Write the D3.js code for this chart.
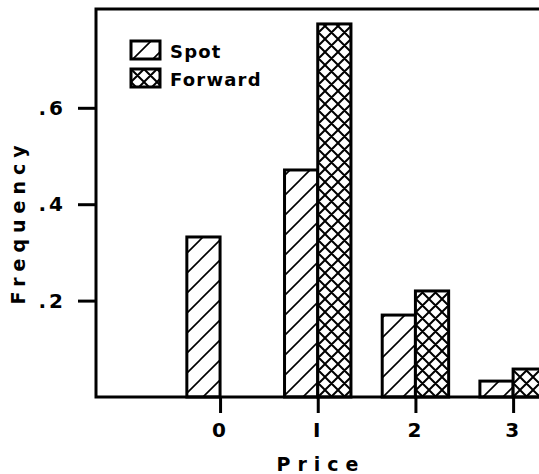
<!DOCTYPE html>
<html>
<head>
<meta charset="utf-8">
<script src="https://d3js.org/d3.v7.min.js"></script>
<style>
  body { margin: 0; background: #fff; }
  text { font-family: "DejaVu Sans", sans-serif; font-weight: bold; fill: #000; }
</style>
</head>
<body>
<svg id="drawing_region"></svg>
<script>
// chart data
var prices = [0, 1, 2, 3];
var spot = [0.332, 0.471, 0.170, 0.033];
var forward = [0, 0.774, 0.220, 0.058];
var yticks = [0.2, 0.4, 0.6];
var ytickLabels = [".2", ".4", ".6"];
var series = ["Spot", "Forward"];

var config = {
    width: 539,
    height: 474,
    left: 96,
    top: 9,
    bottom: 397,
    barw: 0.34
};

var svg = d3.select("#drawing_region")
    .attr("width", config.width)
    .attr("height", config.height);

var defs = svg.append("defs");

// single hatch for Spot
var hatch = defs.append("pattern")
    .attr("id", "hatch")
    .attr("patternUnits", "userSpaceOnUse")
    .attr("width", 20).attr("height", 20);
hatch.append("rect").attr("width", 20).attr("height", 20).attr("fill", "#fff");
hatch.append("path")
    .attr("d", "M0,20 L20,0 M-5,5 L5,-5 M15,25 L25,15")
    .attr("stroke", "#000").attr("stroke-width", 1.6);

// cross hatch for Forward
var cross = defs.append("pattern")
    .attr("id", "cross")
    .attr("patternUnits", "userSpaceOnUse")
    .attr("width", 13).attr("height", 13);
cross.append("rect").attr("width", 13).attr("height", 13).attr("fill", "#fff");
cross.append("path")
    .attr("d", "M0,13 L13,0 M0,0 L13,13 M-3,3 L3,-3 M10,16 L16,10 M-3,10 L3,16 M10,-3 L16,3")
    .attr("stroke", "#000").attr("stroke-width", 2);

var fills = ["url(#hatch)", "url(#cross)"];

var xscale = d3.scaleLinear()
    .domain([-1.27, 3.265])
    .range([config.left, config.width]);

var yscale = d3.scaleLinear()
    .domain([0, 0.805])
    .range([config.bottom, config.top]);

var chart = svg.append("g");

// bars
chart.selectAll(".spot")
    .data(prices)
    .enter()
    .append("rect")
    .attr("class", "spot")
    .attr("x", (d, i) => xscale(d - config.barw))
    .attr("y", (d, i) => yscale(spot[i]))
    .attr("width", xscale(config.barw) - xscale(0))
    .attr("height", (d, i) => yscale(0) - yscale(spot[i]))
    .attr("fill", fills[0])
    .attr("stroke", "#000")
    .attr("stroke-width", 3);

chart.selectAll(".fwd")
    .data(prices.filter((d, i) => forward[i] > 0))
    .enter()
    .append("rect")
    .attr("class", "fwd")
    .attr("x", d => xscale(d))
    .attr("y", d => yscale(forward[d]))
    .attr("width", xscale(config.barw) - xscale(0))
    .attr("height", d => yscale(0) - yscale(forward[d]))
    .attr("fill", fills[1])
    .attr("stroke", "#000")
    .attr("stroke-width", 3);

// axes
var xaxis = d3.axisBottom(xscale)
    .tickValues(prices)
    .tickSize(16)
    .tickPadding(10)
    .tickFormat(d => d === 1 ? "I" : d);

var xaxis_group = svg.append("g")
    .attr("transform", `translate(0, ${config.bottom})`)
    .call(xaxis);

var yaxis = d3.axisLeft(yscale)
    .tickValues(yticks)
    .tickSize(18)
    .tickPadding(12)
    .tickFormat((d, i) => ytickLabels[i]);

var yaxis_group = svg.append("g")
    .attr("transform", `translate(${config.left}, 0)`)
    .call(yaxis);

[xaxis_group, yaxis_group].forEach(g => {
    g.select(".domain").remove();
    g.selectAll(".tick line").attr("stroke", "#000").attr("stroke-width", 3);
    g.selectAll(".tick text")
        .attr("font-size", 20)
        .attr("font-family", "DejaVu Sans, sans-serif")
        .attr("font-weight", "bold")
        .style("letter-spacing", "3px");
});

// frame lines: left, bottom, top
svg.append("path")
    .attr("d", `M${config.width},${config.top} L${config.left},${config.top} L${config.left},${config.bottom} L${config.width},${config.bottom}`)
    .attr("fill", "none")
    .attr("stroke", "#000")
    .attr("stroke-width", 3);

// labels
svg.append("text")
    .attr("x", 321)
    .attr("y", 471)
    .attr("text-anchor", "middle")
    .attr("font-size", 19)
    .style("letter-spacing", "7px")
    .text("Price");

svg.append("text")
    .attr("transform", "translate(25, 222) rotate(-90)")
    .attr("text-anchor", "middle")
    .attr("font-size", 19)
    .style("letter-spacing", "6px")
    .text("Frequency");

// legend
var legend = svg.append("g")
    .selectAll("g")
    .data(series)
    .enter()
    .append("g")
    .attr("transform", (d, i) => `translate(131, ${41 + i * 28})`);

legend.append("rect")
    .attr("width", 29)
    .attr("height", 18)
    .attr("fill", (d, i) => fills[i])
    .attr("stroke", "#000")
    .attr("stroke-width", 3);

legend.append("text")
    .attr("x", 39)
    .attr("y", 17)
    .attr("font-size", 18)
    .style("letter-spacing", "1.2px")
    .text(d => d);
</script>
</body>
</html>
